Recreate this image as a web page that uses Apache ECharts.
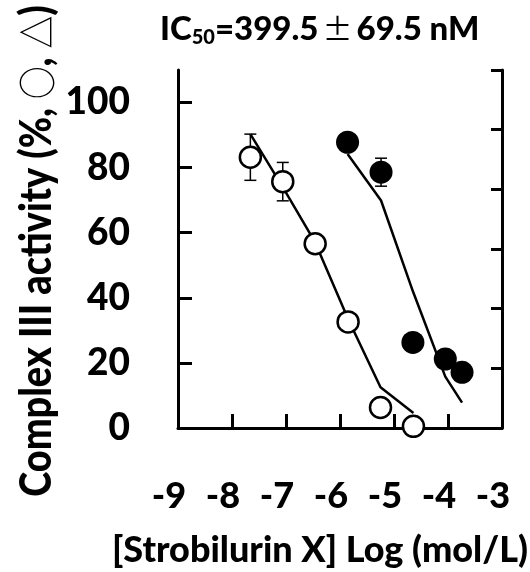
<!DOCTYPE html>
<html><head><meta charset="utf-8">
<script src="https://cdn.jsdelivr.net/npm/echarts@6/dist/echarts.min.js"></script>
<style>html,body{margin:0;padding:0;background:#fff}#c{width:530px;height:572px}</style>
</head><body><div id="c"></div>
<script>
// ---- data ----
const xTicks = [-9, -8, -7, -6, -5, -4, -3];
const yTicks = [0, 20, 40, 60, 80, 100];
const rightTicks = [0, 1, 2, 3, 4, 5, 6];

const openLogConc = [-7.66, -7.06, -6.46, -5.85, -5.25, -4.64];
const openActivity = [83.2, 75.7, 56.6, 32.6, 6.3, 0.5];
const openError = [7.1, 5.9, 0, 0, 0, 0];
const openFit = [90.3, 74.0, 57.0, 33.5, 12.5, 4.6];

const filledLogConc = [-5.86, -5.24, -4.65, -4.05, -3.74];
const filledActivity = [87.8, 78.6, 26.3, 21.2, 17.1];
const filledError = [0, 4.3, 0, 0, 0];
const filledFit = [84.2, 69.9, 42.0, 15.8, 7.8];

const yTitle = '{b|Complex III activity (%, }{s|○}{b|, }{s|△}{b|)}';
const xTitle = '[Strobilurin X] Log (mol/L)';
const topTitle = '{a|IC}{s|50}{a|=399.5}{pm|±}{a|69.5 nM}';

// ---- build ----
const FONT = "Lato, 'Noto Sans CJK JP', sans-serif";
const W = 900;
const zip = (xs, ys) => xs.map((x, i) => [x, ys[i]]);
const errData = (xs, ys, es) => xs.map((x, i) => [x, ys[i] - es[i], ys[i] + es[i]]).filter((d, i) => es[i] > 0);

function renderErr(params, api) {
  const x = api.value(0);
  const lo = api.coord([x, api.value(1)]);
  const hi = api.coord([x, api.value(2)]);
  const w = 6;
  const st = { stroke: '#000', lineWidth: 1.5 };
  return {
    type: 'group',
    children: [
      { type: 'line', shape: { x1: lo[0], y1: lo[1], x2: hi[0], y2: hi[1] }, style: st },
      { type: 'line', shape: { x1: lo[0] - w, y1: lo[1], x2: lo[0] + w, y2: lo[1] }, style: st },
      { type: 'line', shape: { x1: hi[0] - w, y1: hi[1], x2: hi[0] + w, y2: hi[1] }, style: st }
    ]
  };
}

const chart = echarts.init(document.getElementById('c'), null, { renderer: 'canvas' });
chart.setOption({
  backgroundColor: '#fff',
  animation: false,
  title: {
    text: topTitle,
    left: 155, top: 4,
    textStyle: {
      rich: {
        a: { fontFamily: FONT, fontWeight: W, fontSize: 33, color: '#000', lineHeight: 40 },
        s: { fontFamily: FONT, fontWeight: W, fontSize: 20, color: '#000', lineHeight: 40, padding: [18, 0, 0, 0] },
        pm: { fontFamily: "'Noto Sans CJK JP', sans-serif", fontWeight: 'normal', fontSize: 30, color: '#000', lineHeight: 40, padding: [0, 4, 0, 4] }
      }
    }
  },
  graphic: [{
    type: 'text', x: 37, y: 251, rotation: Math.PI / 2, scaleX: 0.86, scaleY: 1, silent: true,
    style: {
      text: yTitle, align: 'center', verticalAlign: 'middle',
      rich: {
        b: { fontFamily: FONT, fontWeight: W, fontSize: 44, fill: '#000', lineHeight: 48 },
        s: { fontFamily: "'Noto Sans CJK JP', sans-serif", fontWeight: 'normal', fontSize: 38, fill: '#000', lineHeight: 48 }
      }
    }
  }],
  grid: { left: 178, top: 70, width: 324, height: 358, containLabel: false, outerBoundsMode: 'none' },
  xAxis: {
    type: 'value', min: xTicks[0], max: xTicks[xTicks.length - 1], interval: 1,
    name: xTitle, nameLocation: 'middle', nameGap: 102,
    nameTextStyle: { fontFamily: FONT, fontWeight: W, fontSize: 36, color: '#000', padding: [0, 40, 0, 0], lineHeight: 40 },
    axisLine: { show: true, lineStyle: { color: '#000', width: 3 } },
    axisTick: { show: true, inside: true, length: 14, lineStyle: { color: '#000', width: 3 } },
    axisLabel: { color: '#000', fontFamily: FONT, fontWeight: W, fontSize: 36, margin: 50, padding: [0, 18, 0, 0], showMinLabel: true, showMaxLabel: true, formatter: v => String(v) },
    splitLine: { show: false }
  },
  yAxis: [{
    type: 'value', min: 0, max: 110, position: 'left',
    axisLine: { show: true, lineStyle: { color: '#000', width: 3 } },
    axisTick: { show: true, inside: true, length: 14, customValues: yTicks, lineStyle: { color: '#000', width: 3 } },
    axisLabel: { color: '#000', fontFamily: FONT, fontWeight: W, fontSize: 37, margin: 48, customValues: yTicks },
    splitLine: { show: false }
  }, {
    type: 'value', min: rightTicks[0], max: rightTicks[rightTicks.length - 1], interval: 1, position: 'right',
    axisLine: { show: true, lineStyle: { color: '#000', width: 3 } },
    axisTick: { show: true, inside: true, length: 11, lineStyle: { color: '#000', width: 3 } },
    axisLabel: { show: false },
    splitLine: { show: false }
  }],
  series: [
    { type: 'custom', renderItem: renderErr, data: errData(openLogConc, openActivity, openError), z: 1, clip: false, silent: true },
    { type: 'custom', renderItem: renderErr, data: errData(filledLogConc, filledActivity, filledError), z: 1, clip: false, silent: true },
    { type: 'line', data: zip(openLogConc, openFit), showSymbol: false, symbol: 'none', lineStyle: { color: '#000', width: 2.5 }, z: 2, clip: false },
    { type: 'line', data: zip(filledLogConc, filledFit), showSymbol: false, symbol: 'none', lineStyle: { color: '#000', width: 2.5 }, z: 2, clip: false },
    { type: 'scatter', data: zip(openLogConc, openActivity), symbol: 'circle', symbolSize: 21, itemStyle: { color: '#fff', borderColor: '#000', borderWidth: 2.5, opacity: 1 }, z: 3, clip: false },
    { type: 'scatter', data: zip(filledLogConc, filledActivity), symbol: 'circle', symbolSize: 23, itemStyle: { color: '#000', opacity: 1 }, z: 3, clip: false }
  ]
});
</script>
</body></html>
